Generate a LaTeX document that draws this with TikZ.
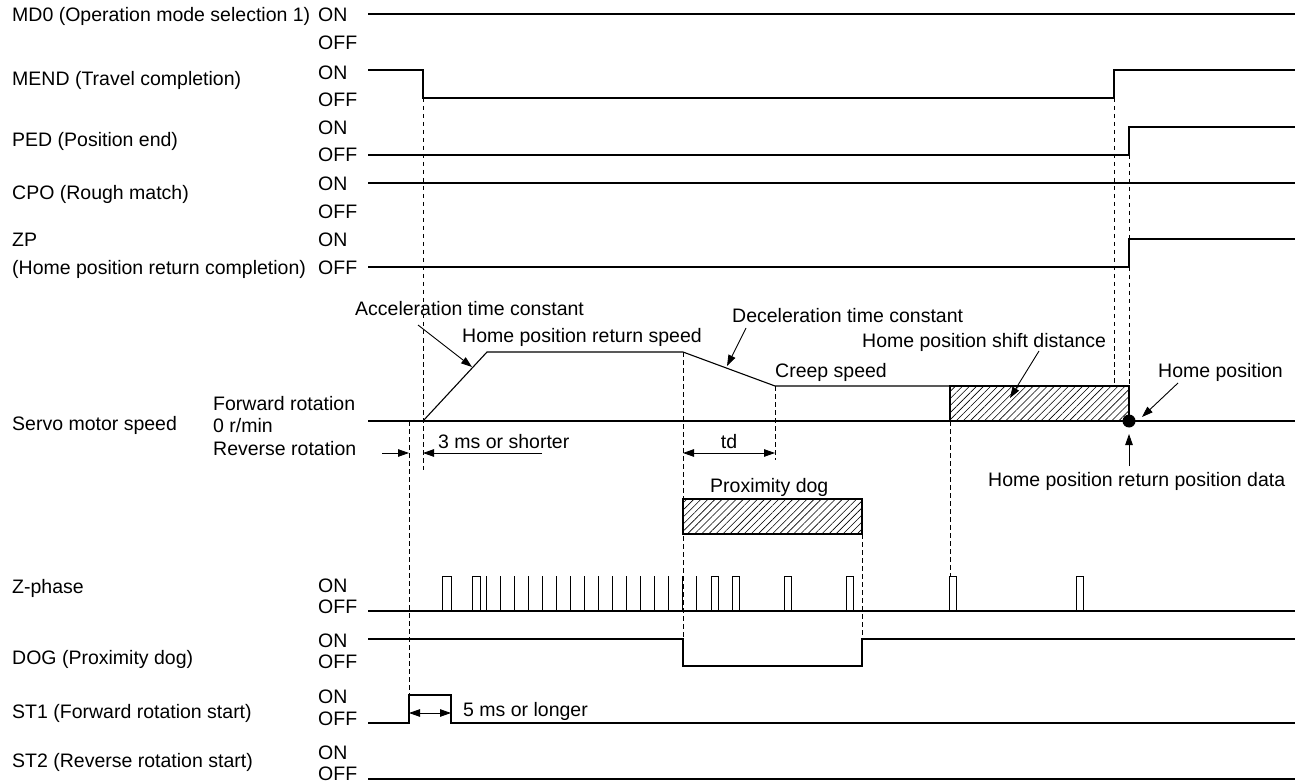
\documentclass[tikz,border=0pt]{standalone}
\usepackage{fontspec}
\setmainfont{Liberation Sans}
\usetikzlibrary{arrows.meta,patterns.meta}
\begin{document}
\begin{tikzpicture}[x=1pt,y=-1pt,font=\fontsize{19.5}{22}\selectfont,
  sig/.style={line width=1.1pt,line join=miter},
  dsh/.style={line width=0.9pt,dash pattern=on 4.5pt off 3.5pt},
  lbl/.style={anchor=base west,inner sep=0pt},
  ctr/.style={anchor=base,inner sep=0pt},
  arr/.style={-{Triangle[length=11pt,width=7.5pt]},line width=0.9pt},
  dimarr/.style={{Triangle[length=11pt,width=7.5pt]}-{Triangle[length=11pt,width=7.5pt]},line width=0.9pt},
  hatch/.style={draw,line width=1.1pt,pattern={Lines[angle=45,distance=5pt,line width=0.6pt]}},
  pulse/.style={line width=1pt}]
\useasboundingbox (0,0) rectangle (1295,783);
\fill[white] (0,0) rectangle (1295,783);

% ---------- left labels ----------
\node[lbl] (md0)  at (12,22)  {MD0 (Operation mode selection 1)};
\node[lbl] (mend) at (12,86)  {MEND (Travel completion)};
\node[lbl] (ped)  at (12,147) {PED (Position end)};
\node[lbl] (cpo)  at (12,200) {CPO (Rough match)};
\node[lbl] (zp)   at (12,247) {ZP};
\node[lbl] (zp2)  at (12,275) {(Home position return completion)};
\node[lbl] (servo) at (12,430) {Servo motor speed};
\node[lbl] (zph)  at (12,593) {Z-phase};
\node[lbl] (dog)  at (12,664) {DOG (Proximity dog)};
\node[lbl] (st1)  at (12,718) {ST1 (Forward rotation start)};
\node[lbl] (st2)  at (12,767) {ST2 (Reverse rotation start)};

% ---------- ON / OFF ----------
\foreach \n/\a/\b in {a/22/50, b/80/107, c/135/162, d/191/219, e/247/275, f/592/613, g/647/668, h/703/725, i/759/780}{
  \node[lbl] (on\n)  at (318,\a) {ON};
  \node[lbl] (off\n) at (318,\b) {OFF};
}
\node[lbl] (fwd) at (213,410) {Forward rotation};
\node[lbl] (zero) at (213,432) {0 r/min};
\node[lbl] (rev) at (213,455) {Reverse rotation};

% ---------- signals ----------
\draw[sig] (368,14) -- (1295,14);
\draw[sig] (368,70) -- (423,70) -- (423,98) -- (1114,98) -- (1114,70) -- (1295,70);
\draw[sig] (368,155) -- (1129,155) -- (1129,127) -- (1295,127);
\draw[sig] (368,183) -- (1295,183);
\draw[sig] (368,267) -- (1129,267) -- (1129,239) -- (1295,239);
\draw[sig] (368,421) -- (1295,421);
\draw[sig] (423,421) -- (487,352) -- (683,352) -- (775,386) -- (1129,386);
\draw[sig] (368,611) -- (1295,611);
\draw[sig] (368,639) -- (683,639) -- (683,666) -- (862,666) -- (862,639) -- (1295,639);
\draw[sig] (368,723) -- (409,723) -- (409,695) -- (451,695) -- (451,723) -- (1295,723);
\draw[sig] (368,779) -- (1295,779);

% ---------- Z-phase pulses ----------
\foreach \a/\b in {442/451, 472/480, 711/718, 732/739, 784/791, 846/853, 949/956, 1076/1083}{
  \draw[pulse] (\a,611) -- (\a,576) -- (\b,576) -- (\b,611);
}
\foreach \k in {0,...,15}{
  \draw[pulse] ({486+14*\k},611) -- ({486+14*\k},576);
}

% ---------- hatched areas ----------
\draw[hatch] (950,386) rectangle (1129,421);
\draw[hatch] (683,499) rectangle (862,534);
\fill (1129,421) circle[radius=6.5pt];

% ---------- dashed guides ----------
\draw[dsh] (409,421) -- (409,695);
\draw[dsh] (423,98) -- (423,470);
\draw[dsh] (683,352) -- (683,639);
\draw[dsh] (775,386) -- (775,460);
\draw[dsh] (950,421) -- (950,576);
\draw[dsh] (862,534) -- (862,639);
\draw[dsh] (1114,98) -- (1114,386);
\draw[dsh] (1129,155) -- (1129,386);

% ---------- annotations ----------
\node[lbl] (acc)   at (355,316) {Acceleration time constant};
\node[lbl] (hprs)  at (462,342) {Home position return speed};
\node[lbl] (dec)   at (732,323) {Deceleration time constant};
\node[lbl] (creep) at (775,377) {Creep speed};
\node[lbl] (shift) at (862,348) {Home position shift distance};
\node[lbl] (home)  at (1158,377) {Home position};
\node[lbl] (hprpd) at (988,486) {Home position return position data};
\node[lbl] (prox)  at (710,492) {Proximity dog};
\node[lbl] (three) at (438,448) {3 ms or shorter};
\node[ctr] (td)    at (729,448) {td};
\node[lbl] (five)  at (463,716) {5 ms or longer};

\coordinate (accT) at (472,367);
\coordinate (decT) at (727,366);
\coordinate (shiftT) at (1010,398);
\coordinate (homeT) at (1142,417);
\draw[arr] (418,325) -- (accT);
\draw[arr] (746,328) -- (decT);
\draw[arr] (1039,351) -- (shiftT);
\draw[arr] (1178,383) -- (homeT);
\draw[arr] (1129,466) -- (1129,434);

\draw[arr] (382,453) -- (409,453);
\draw[arr] (542,453) -- (423,453);
\draw[dimarr] (683,453) -- (775,453);
\draw[dimarr] (409,713) -- (451,713);
\end{tikzpicture}
\end{document}
